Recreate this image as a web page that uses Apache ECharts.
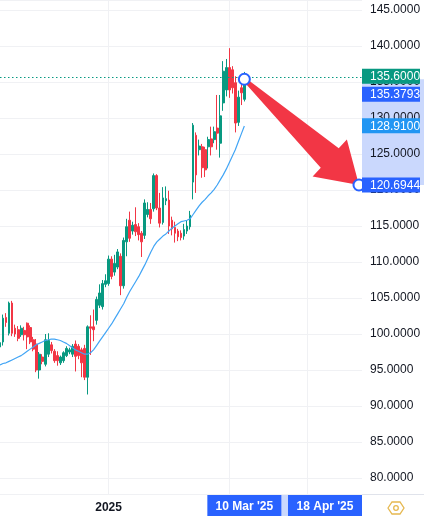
<!DOCTYPE html>
<html>
<head>
<meta charset="utf-8">
<style>
  html, body { margin: 0; padding: 0; background: #fff; }
  #chart { width: 424px; height: 516px; }
</style>
<script src="https://cdn.jsdelivr.net/npm/echarts@6/dist/echarts.min.js"></script>
</head>
<body>
<div id="chart"></div>
<script>
// time scale: real bars plus empty space to the right
const slotCount = 121;
const slots = Array.from({ length: slotCount }, (_, i) => String(i));
const tickIndex = [36, 76, 102];
const tickText = ['2025', 'Mar', 'Apr'];

// daily bars [open, close, low, high]
const ohlc = [
  [98.2, 98.8, 97.9, 99.3], [98.9, 102.2, 98.4, 102.7], [102.3, 101.6, 101.0, 102.9], [100.1, 104.3, 99.8, 104.5],
  [104.3, 100.1, 99.7, 104.6], [100.8, 100.0, 99.6, 101.3], [100.6, 99.4, 99.0, 101.1], [99.9, 100.8, 99.6, 101.2],
  [100.5, 99.9, 99.1, 101.0], [101.5, 99.6, 97.9, 101.6], [100.9, 98.9, 98.6, 101.2], [99.2, 97.9, 97.6, 99.6],
  [98.6, 95.0, 94.7, 99.3], [95.0, 97.2, 93.8, 97.5], [96.8, 96.2, 95.8, 97.2], [95.8, 99.2, 95.5, 100.0],
  [97.2, 99.1, 96.8, 100.1], [98.5, 97.7, 97.3, 98.9], [97.6, 96.3, 96.0, 97.9], [97.0, 96.3, 95.6, 97.6],
  [96.0, 96.8, 95.7, 97.0], [96.3, 97.4, 96.0, 97.6], [97.0, 98.0, 96.8, 98.3], [97.5, 97.8, 97.2, 98.1],
  [97.2, 98.3, 96.8, 98.6], [98.6, 96.9, 94.8, 99.1], [98.3, 97.0, 96.5, 98.6], [97.8, 96.0, 94.0, 98.1],
  [98.0, 94.0, 93.6, 98.5], [94.0, 101.0, 91.6, 101.2], [101.0, 100.8, 97.1, 102.6], [101.0, 100.6, 99.0, 103.4],
  [101.9, 104.8, 101.3, 105.2], [104.0, 105.7, 103.6, 106.9], [103.8, 107.0, 103.4, 107.5], [106.9, 107.4, 106.5, 108.3],
  [107.0, 110.4, 106.7, 110.9], [110.4, 108.0, 107.6, 110.8], [108.6, 109.8, 108.1, 111.0], [109.3, 111.4, 109.0, 111.8],
  [110.8, 106.7, 105.4, 111.2], [106.7, 113.0, 106.3, 113.4], [112.8, 114.9, 110.8, 116.0], [115.8, 113.3, 112.8, 117.0],
  [114.3, 115.1, 113.8, 115.6], [115.2, 114.2, 113.6, 117.6], [114.9, 113.8, 113.0, 115.4], [114.0, 112.8, 110.7, 114.3],
  [113.7, 118.2, 113.2, 118.7], [116.6, 117.3, 116.2, 118.3], [117.3, 116.0, 115.3, 118.2], [117.4, 122.0, 117.0, 122.3],
  [122.0, 117.5, 117.2, 122.2], [117.5, 115.4, 114.8, 119.6], [115.5, 118.9, 115.2, 120.4], [118.5, 118.8, 117.9, 120.5],
  [118.6, 115.0, 113.9, 119.9], [115.8, 114.6, 113.7, 116.3], [114.8, 114.0, 112.7, 115.6], [114.3, 113.5, 112.9, 114.6],
  [114.0, 113.4, 113.0, 114.4], [113.6, 114.5, 113.1, 115.3], [114.3, 115.0, 113.9, 115.8], [114.9, 116.5, 114.5, 117.1],
  [121.1, 129.0, 118.7, 129.3], [127.6, 122.1, 119.6, 128.0], [125.6, 126.1, 124.8, 127.0], [126.0, 123.1, 121.7, 126.4],
  [125.6, 122.8, 121.8, 126.0], [126.0, 127.0, 123.0, 127.4], [127.1, 126.0, 124.8, 128.8], [127.0, 128.1, 126.5, 128.8],
  [128.6, 127.9, 125.6, 133.2], [126.5, 130.3, 124.5, 133.2], [132.1, 136.5, 131.0, 137.9], [133.9, 137.0, 133.0, 138.2],
  [137.0, 133.9, 132.8, 139.7], [136.7, 134.2, 133.4, 137.2], [134.9, 129.3, 128.0, 135.8], [129.4, 132.9, 128.9, 133.8],
  [134.2, 133.5, 131.8, 135.2], [132.6, 135.6, 132.3, 136.4]
];

// moving average
const ma = [
  95.7, 95.9, 96.0, 96.2, 96.4, 96.6, 96.8, 97.0, 97.3, 97.6,
  97.9, 98.2, 98.5, 98.7, 98.9, 99.1, 99.2, 99.3, 99.3, 99.2,
  99.1, 98.9, 98.7, 98.4, 98.1, 97.8, 97.6, 97.4, 97.2, 97.2,
  97.4, 97.8, 98.4, 99.0, 99.6, 100.2, 100.8, 101.4, 102.1, 102.8,
  103.5, 104.2, 105.1, 105.9, 106.6, 107.3, 108.0, 108.8, 109.6, 110.5,
  111.4, 112.2, 112.8, 113.2, 113.6, 113.9, 114.3, 114.7, 115.0, 115.3,
  115.6, 115.7, 115.8, 116.0, 116.6, 117.2, 117.8, 118.3, 118.7, 119.2,
  119.6, 120.1, 120.7, 121.4, 122.1, 122.9, 123.8, 124.7, 125.6, 126.7,
  127.8, 128.9
];

const lastPrice = 135.6;
const arrowFrom = [81, 135.3793];
const arrowTo = [119, 120.6944];
const dateTags = ["10 Mar '25", "18 Apr '25"];
const priceTags = [135.6, 135.3793, 128.91, 120.6944];
const tagColors = ['#089981', '#2962ff', '#2196f3', '#2962ff'];

const yMin = 77.78;
const yMax = 146.39;
const FONT = '"Liberation Sans", Arial, sans-serif';

const chart = echarts.init(document.getElementById('chart'));

// light blue range on both scales + bottom separator
function renderShade(params, api) {
  const W = api.getWidth();
  const H = api.getHeight();
  const right = api.coord([slotCount - 1, yMin])[0];
  const axisY = api.coord([0, yMin])[1];
  const a = api.coord(arrowFrom);
  const b = api.coord(arrowTo);
  return {
    type: 'group',
    children: [
      { type: 'rect', shape: { x: right, y: a[1], width: W - right, height: b[1] - a[1] }, style: { fill: '#cad8fd' } },
      { type: 'rect', shape: { x: a[0], y: axisY, width: b[0] - a[0], height: H - axisY }, style: { fill: '#cad8fd' } },
      { type: 'line', shape: { x1: 0, y1: axisY + 0.5, x2: W, y2: axisY + 0.5 }, style: { stroke: '#e0e3eb', lineWidth: 1 } }
    ]
  };
}

// arrow marker drawn in data coordinates
function renderArrow(params, api) {
  const p0 = api.coord(arrowFrom);
  const p1 = api.coord(arrowTo);
  const dx = p1[0] - p0[0];
  const dy = p1[1] - p0[1];
  const len = Math.sqrt(dx * dx + dy * dy);
  const ux = dx / len, uy = dy / len;
  const nx = -uy, ny = ux;
  const bx = p0[0] + ux * len * 0.745;
  const by = p0[1] + uy * len * 0.745;
  const hs = len * 0.012, sb = len * 0.085, hh = len * 0.162;
  const pts = [
    [p0[0] + nx * hs, p0[1] + ny * hs],
    [bx + nx * sb, by + ny * sb],
    [bx + nx * hh, by + ny * hh],
    [p1[0], p1[1]],
    [bx - nx * hh, by - ny * hh],
    [bx - nx * sb, by - ny * sb],
    [p0[0] - nx * hs, p0[1] - ny * hs]
  ];
  return {
    type: 'group',
    children: [
      { type: 'polygon', shape: { points: pts }, style: { fill: '#f23645' } },
      { type: 'circle', shape: { cx: p0[0], cy: p0[1], r: 5.5 }, style: { fill: '#fff', stroke: '#2962ff', lineWidth: 2 } },
      { type: 'circle', shape: { cx: p1[0], cy: p1[1], r: 5.5 }, style: { fill: '#fff', stroke: '#2962ff', lineWidth: 2 } }
    ]
  };
}

// price tags on the right scale, date tags on the time scale
function renderTags(params, api) {
  const H = api.getHeight();
  const right = api.coord([slotCount - 1, yMin])[0];
  const axisY = api.coord([0, yMin])[1];
  const h = 15, gap = 3;
  const children = [];
  let prevBottom = -Infinity;
  priceTags.forEach((v, k) => {
    let cy = api.coord([0, v])[1];
    if (k === 0) cy -= 1.5;
    if (cy - h / 2 < prevBottom + gap) cy = prevBottom + gap + h / 2;
    prevBottom = cy + h / 2;
    children.push({ type: 'rect', shape: { x: right, y: cy - h / 2, width: 58, height: h }, style: { fill: tagColors[k] } });
    children.push({
      type: 'text', x: right + 8, y: cy + 0.5,
      style: { text: v.toFixed(4), fill: '#fff', font: '12px ' + FONT, align: 'left', verticalAlign: 'middle' }
    });
  });
  const boxW = 74;
  [arrowFrom, arrowTo].forEach((pt, k) => {
    const cx = api.coord(pt)[0];
    let x0 = cx - boxW / 2;
    if (x0 + boxW > right) x0 = right - boxW;
    children.push({ type: 'rect', shape: { x: x0, y: axisY + 1, width: boxW, height: H - axisY - 1 }, style: { fill: '#2962ff' } });
    children.push({
      type: 'text', x: x0 + boxW / 2, y: axisY + 13,
      style: { text: dateTags[k], fill: '#fff', font: 'bold 12px ' + FONT, align: 'center', verticalAlign: 'middle' }
    });
  });
  return { type: 'group', children };
}

chart.setOption({
  animation: false,
  backgroundColor: '#fff',
  grid: { left: 0, right: 62, top: 0, bottom: 22 },
  xAxis: {
    type: 'category',
    data: slots,
    boundaryGap: false,
    axisLine: { show: false },
    axisTick: { show: false },
    axisLabel: {
      interval: (i) => tickIndex.includes(i),
      formatter: (v) => {
        const k = tickIndex.indexOf(+v);
        return k < 0 ? '' : tickText[k];
      },
      color: '#131722',
      fontFamily: FONT,
      fontSize: 12,
      fontWeight: 'bold',
      margin: 8
    },
    splitLine: {
      show: true,
      interval: (i) => tickIndex.includes(i),
      lineStyle: { color: '#f0f1f4', width: 1 }
    }
  },
  yAxis: {
    type: 'value',
    position: 'right',
    min: yMin,
    max: yMax,
    splitNumber: 14,
    axisLine: { show: false },
    axisTick: { show: false },
    axisLabel: {
      formatter: (v) => v.toFixed(4),
      color: '#131722',
      fontFamily: FONT,
      fontSize: 12,
      margin: 8,
      showMinLabel: false,
      showMaxLabel: false
    },
    splitLine: { lineStyle: { color: '#f0f1f4', width: 1 } }
  },
  series: [
    {
      type: 'custom',
      z: -1,
      silent: true,
      renderItem: renderShade,
      data: [[0, yMin]]
    },
    {
      type: 'candlestick',
      data: ohlc,
      barWidth: 2.3,
      itemStyle: {
        color: '#089981',
        color0: '#f23645',
        borderColor: '#089981',
        borderColor0: '#f23645',
        borderWidth: 1
      },
      markLine: {
        silent: true,
        symbol: 'none',
        label: { show: false },
        lineStyle: { color: '#089981', type: [1.5, 2.5], width: 1.2 },
        data: [{ yAxis: lastPrice }]
      }
    },
    {
      type: 'line',
      data: ma,
      showSymbol: false,
      smooth: false,
      lineStyle: { color: '#42a5f5', width: 1.2 },
      z: 3
    },
    {
      type: 'custom',
      z: 5,
      silent: true,
      renderItem: renderArrow,
      data: [[0, yMin]]
    },
    {
      type: 'custom',
      z: 10,
      silent: true,
      renderItem: renderTags,
      data: [[0, yMin]]
    }
  ],
  graphic: [
    {
      type: 'polygon',
      shape: { points: [[388, 508], [392, 502], [400, 502], [404, 508], [400, 514], [392, 514]] },
      style: { fill: 'none', stroke: '#e6b84f', lineWidth: 1.3 }
    },
    {
      type: 'circle',
      shape: { cx: 396, cy: 508, r: 2.3 },
      style: { fill: 'none', stroke: '#e6b84f', lineWidth: 1.3 }
    }
  ]
});
</script>
</body>
</html>
